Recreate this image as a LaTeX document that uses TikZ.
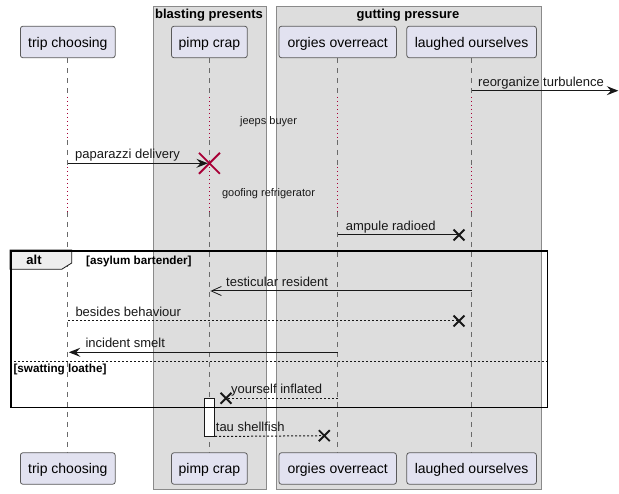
\documentclass[tikz,border=0pt]{standalone}
\usepackage{fontspec}
\setmainfont{Liberation Sans}
\usetikzlibrary{arrows.meta,shapes.misc}
\definecolor{boxfill}{HTML}{DDDDDD}
\definecolor{boxline}{HTML}{8A8A8A}
\definecolor{partfill}{HTML}{E2E2F0}
\definecolor{partline}{HTML}{5A5A5A}
\definecolor{lifeln}{HTML}{6A6A6A}
\definecolor{delayc}{HTML}{A80036}
\definecolor{msgc}{HTML}{181818}
\definecolor{tabfill}{HTML}{EEEEEE}
\begin{document}
\begin{tikzpicture}[x=1pt,y=-1pt,
  part/.style={draw=partline, fill=partfill, rounded corners=2.5pt, line width=0.8pt,
    minimum height=31.5pt, inner sep=0pt, text height=11pt, text depth=0pt,
    font=\fontsize{14pt}{16pt}\selectfont},
  grp/.style={draw=boxline, fill=boxfill, line width=0.8pt, inner sep=0pt, anchor=north west},
  grptitle/.style={anchor=base, inner sep=0pt, font=\fontsize{13pt}{15pt}\selectfont\bfseries},
  life/.style={draw=lifeln, line width=0.8pt, dash pattern=on 5pt off 5pt},
  delayln/.style={draw=delayc, line width=1pt, dash pattern=on 1pt off 3pt},
  msg/.style={draw=msgc, line width=1pt},
  fillhead/.style={-{Stealth[length=11.5pt,width=9pt,inset=4.2pt]}},
  openhead/.style={-{Straight Barb[length=10pt,width=9pt,line width=0.8pt]}},
  dotmsg/.style={draw=msgc, line width=1pt, dash pattern=on 2pt off 2pt},
  mtext/.style={anchor=base west, inner sep=0pt, text=msgc, font=\fontsize{13pt}{15pt}\selectfont},
  dtext/.style={anchor=base, inner sep=0pt, text=msgc, font=\fontsize{11pt}{13pt}\selectfont},
  xhead/.style={cross out, draw=msgc, line width=1.9pt, minimum size=9pt, inner sep=0pt},
  destroy/.style={cross out, draw=delayc, line width=1.9pt, minimum size=19pt, inner sep=0pt},
  guard/.style={anchor=base west, inner sep=0pt, font=\fontsize{11.7pt}{13pt}\selectfont\bfseries}
]
\useasboundingbox (0,0) rectangle (619,494);
\fill[white] (0,0) rectangle (619,494);

% group boxes
\node[grp, minimum width=113pt, minimum height=483pt] (bp) at (152.5,6) {};
\node[grptitle] (bpt) at (209,18.5) {blasting presents};
\node[grp, minimum width=265pt, minimum height=483pt] (gp) at (275.5,6) {};
\node[grptitle] (gpt) at (408,18.5) {gutting pressure};

% participants
\node[part, minimum width=94.8pt] (tcT) at (67.8,42) {trip choosing};
\node[part, minimum width=75.8pt] (pcT) at (209.4,42) {pimp crap};
\node[part, minimum width=117.4pt] (ooT) at (337.7,42) {orgies overreact};
\node[part, minimum width=129.6pt] (loT) at (471.6,42) {laughed ourselves};
\node[part, minimum width=94.8pt] (tcB) at (67.8,468.5) {trip choosing};
\node[part, minimum width=75.8pt] (pcB) at (209.4,468.5) {pimp crap};
\node[part, minimum width=117.4pt] (ooB) at (337.7,468.5) {orgies overreact};
\node[part, minimum width=129.6pt] (loB) at (471.6,468.5) {laughed ourselves};

% lifelines
\foreach \p in {tc,pc,oo,lo}{
  \draw[life] (\p T.south) -- (\p T |- 0,97);
  \draw[delayln] (\p T |- 0,97) -- (\p T |- 0,140);
  \draw[life] (\p T |- 0,140) -- (\p T |- 0,167);
  \draw[delayln] (\p T |- 0,167) -- (\p T |- 0,212);
  \draw[life] (\p T |- 0,212) -- (\p B.north);
}

% alt tab (covers lifeline)
\path[fill=tabfill, draw=msgc, line width=0.8pt] (10,250) -- (71.7,250) -- (71.7,263) -- (61.7,269.3) -- (10,269.3) -- cycle;
\node[anchor=base, inner sep=0pt, font=\fontsize{13pt}{15pt}\selectfont\bfseries] (altl) at (34,264.5) {alt};
\node[guard] (g1) at (86,264.5) {[asylum bartender]};
\draw[msgc, line width=0.8pt, dash pattern=on 2pt off 2pt] (10,361) -- (546.7,361);
\node[guard] (g2) at (13.3,373) {[swatting loathe]};

% delays
\node[dtext] (dl1) at (268.5,125) {jeeps buyer};
\node[dtext] (dl2) at (268.5,196.7) {goofing refrigerator};

% messages
\coordinate (ext) at (618.3,90.7);
\draw[msg, fillhead] (loT |- 0,90.7) -- (ext);
\node[mtext] (m1) at (478,86.2) {reorganize turbulence};

\node[destroy] (d1) at (pcT |- 0,163.3) {};
\draw[msg, fillhead] (tcT |- 0,163.3) -- ([xshift=-1.5pt]d1.center);
\node[mtext] (m2) at (75,158.8) {paparazzi delivery};

\node[xhead] (x1) at (459,235) {};
\draw[msg] (ooT |- 0,235) -- (x1.center);
\node[mtext] (m3) at (345.7,230.5) {ampule radioed};

\draw[msg, openhead] (loT |- 0,291) -- ([xshift=1pt]pcT |- 0,291);
\node[mtext] (m4) at (226,286.5) {testicular resident};

\node[xhead] (x2) at (459,321) {};
\draw[dotmsg] (tcT |- 0,321) -- (x2.center);
\node[mtext] (m5) at (75.3,316.5) {besides behaviour};

\draw[msg, fillhead] (ooT |- 0,352.3) -- ([xshift=1pt]tcT |- 0,352.3);
\node[mtext] (m6) at (85.3,347.8) {incident smelt};

\node[xhead] (x3) at (226,398.3) {};
\draw[dotmsg] (ooT |- 0,398.3) -- (x3.center);
\node[mtext] (m7) at (231,393.8) {yourself inflated};

% activation
\node[draw=msgc, fill=white, line width=0.8pt, minimum width=10pt, minimum height=37.4pt, inner sep=0pt, anchor=north west] (act) at (204.3,398.3) {};

\node[xhead] (x4) at (324.3,435.7) {};
\draw[dotmsg] (act.south east) -- (x4.center);
\node[mtext] (m8) at (215.7,431.2) {tau shellfish};

% alt frame
\node[draw=black, line width=1.6pt, minimum width=536.7pt, minimum height=156.7pt, inner sep=0pt, anchor=north west] (alt) at (10,250) {};
\end{tikzpicture}
\end{document}
